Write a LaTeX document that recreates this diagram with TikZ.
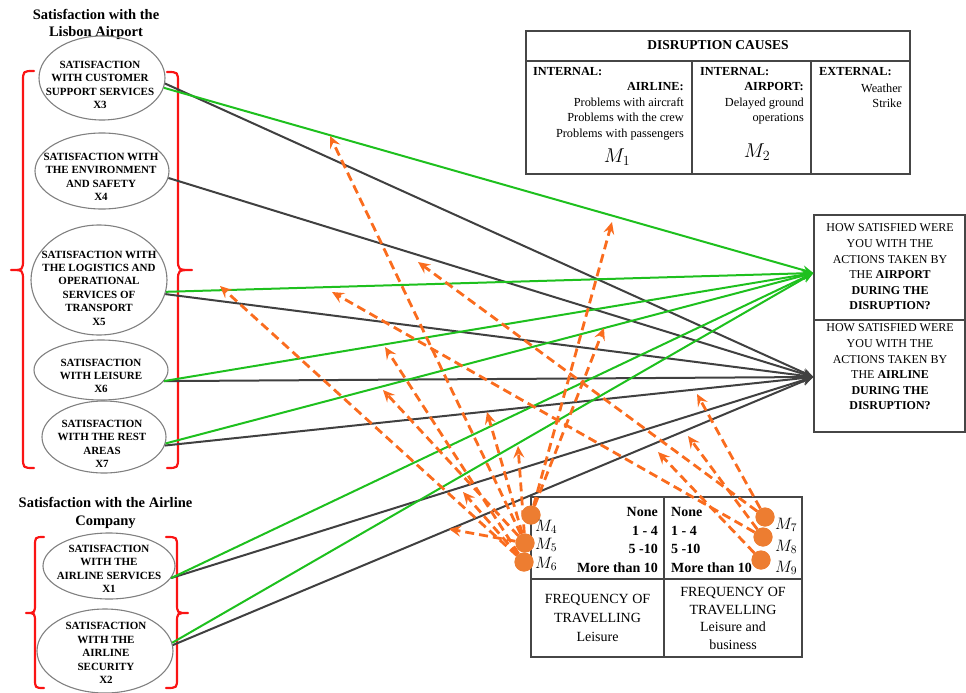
\RequirePackage{fix-cm}
\documentclass[tikz,border=0pt]{standalone}
\usepackage{fontspec}
\setmainfont{Liberation Serif}
\usetikzlibrary{arrows.meta,shapes.geometric,calc}
\definecolor{linkgreen}{RGB}{30,192,30}
\definecolor{linkdark}{RGB}{64,64,64}
\definecolor{medorange}{RGB}{250,108,30}
\definecolor{dotorange}{RGB}{237,125,49}
\definecolor{bracered}{RGB}{250,20,20}
\definecolor{rimgray}{RGB}{128,128,128}
\definecolor{framegray}{RGB}{70,70,70}

\begin{document}
\begin{tikzpicture}[x=1pt,y=-1pt,
  satell/.style={ellipse, draw=rimgray, line width=1.1pt, inner sep=0pt},
  sattext/.style={align=center, inner sep=0pt, font=\fontsize{11}{13.4}\selectfont\bfseries},
  grouptitle/.style={align=center, inner sep=0pt, font=\fontsize{14.5}{17.5}\selectfont\bfseries},
  redbrace/.style={draw=bracered, line width=2.2pt, line cap=round, line join=round},
  greenlink/.style={draw=linkgreen, line width=2pt, -{Stealth[length=11pt,width=9pt]}},
  darklink/.style={draw=linkdark, line width=2pt, -{Stealth[length=11pt,width=9pt]}},
  medarrow/.style={draw=medorange, line width=2.8pt, dash pattern=on 9pt off 5pt, -{Stealth[length=12pt,width=11pt,inset=4.5pt]}},
  mdot/.style={circle, fill=dotorange, inner sep=0pt, minimum size=19pt},
  mlabel/.style={anchor=west, inner sep=0pt, font=\fontsize{16.5}{16.5}\selectfont},
  msym/.style={inner sep=0pt, font=\fontsize{20}{20}\selectfont},
  tableline/.style={draw=framegray, line width=1.1pt},
  celltext/.style={inner sep=0pt, font=\fontsize{12.3}{15.5}\selectfont},
  freqtext/.style={inner sep=0pt, font=\fontsize{14}{18.7}\selectfont},
  qbox/.style={draw=framegray, line width=1.1pt, inner sep=0pt, minimum width=151pt},
  qtext/.style={align=center, inner sep=0pt, font=\fontsize{12}{15.6}\selectfont}
]
\useasboundingbox (0,0) rectangle (966,693);

% ---------- group titles ----------
\node[grouptitle] (lisbontitle) at (96,24.5) {Satisfaction with the\\Lisbon Airport};
\node[grouptitle] (airlinetitle) at (105.5,513) {Satisfaction with the Airline\\Company};

% ---------- satisfaction ellipses ----------
\node[satell, minimum width=126pt, minimum height=84pt] (x3) at (102,78) {};
\node[sattext] (x3t) at (100,85) {SATISFACTION\\WITH CUSTOMER\\SUPPORT SERVICES\\X3};
\node[satell, minimum width=134pt, minimum height=76pt] (x4) at (102,171) {};
\node[sattext] (x4t) at (101,177) {SATISFACTION WITH\\THE ENVIRONMENT\\AND SAFETY\\X4};
\node[satell, minimum width=136pt, minimum height=110pt] (x5) at (99,280) {};
\node[sattext] (x5t) at (99,288) {SATISFACTION WITH\\THE LOGISTICS AND\\OPERATIONAL\\SERVICES OF\\TRANSPORT\\X5};
\node[satell, minimum width=134pt, minimum height=60pt] (x6) at (101,370) {};
\node[sattext] (x6t) at (101,376) {SATISFACTION\\WITH LEISURE\\X6};
\node[satell, minimum width=124pt, minimum height=72pt] (x7) at (104,437) {};
\node[sattext] (x7t) at (102,444) {SATISFACTION\\WITH THE REST\\AREAS\\X7};
\node[satell, minimum width=132pt, minimum height=66pt] (x1) at (109,566) {};
\node[sattext] (x1t) at (109,569) {SATISFACTION\\WITH THE\\AIRLINE SERVICES\\X1};
\node[satell, minimum width=136pt, minimum height=84pt] (x2) at (105,651) {};
\node[sattext] (x2t) at (106,653) {SATISFACTION\\WITH THE\\AIRLINE\\SECURITY\\X2};

% ---------- curly braces around the two groups ----------
\path[redbrace] (34,71) .. controls (23,71) .. (23,82) -- (23,259)
  .. controls (23,270) .. (11,270) .. controls (23,270) .. (23,281) -- (23,457)
  .. controls (23,468) .. (34,468);
\path[redbrace] (167,72) .. controls (178,72) .. (178,83) -- (178,259)
  .. controls (178,270) .. (192,270) .. controls (178,270) .. (178,281) -- (178,457)
  .. controls (178,468) .. (167,468);
\path[redbrace] (44,537) .. controls (35,537) .. (35,547) -- (35,603)
  .. controls (35,613) .. (26,613) .. controls (35,613) .. (35,623) -- (35,678)
  .. controls (35,688) .. (44,688);
\path[redbrace] (166,537) .. controls (177,537) .. (177,547) -- (177,603)
  .. controls (177,613) .. (188,613) .. controls (177,613) .. (177,623) -- (177,678)
  .. controls (177,688) .. (166,688);

% ---------- disruption causes table ----------
\draw[tableline] (526,31) rectangle (910,174);
\draw[tableline] (526,61) -- (910,61);
\draw[tableline] (692,61) -- (692,174);
\draw[tableline] (811,61) -- (811,174);
\node[celltext, font=\fontsize{13.5}{15}\selectfont\bfseries] (dchead) at (718,45) {DISRUPTION CAUSES};
\node[celltext, anchor=west] (int1) at (533,72) {\bfseries INTERNAL:};
\node[celltext, anchor=east, align=right] (airlinecauses) at (684,111.5)
  {\textbf{AIRLINE:}\\Problems with aircraft\\Problems with the crew\\Problems with passengers};
\node[msym] (m1sym) at (617,157) {$M_1$};
\node[celltext, anchor=west] (int2) at (700,72) {\bfseries INTERNAL:};
\node[celltext, anchor=east, align=right] (airportcauses) at (804,103.5)
  {\textbf{AIRPORT:}\\Delayed ground\\operations};
\node[msym] (m2sym) at (757,152) {$M_2$};
\node[celltext, anchor=west] (ext) at (819,72) {\bfseries EXTERNAL:};
\node[celltext, anchor=east, align=right] (extcauses) at (902,96) {Weather\\Strike};

% ---------- outcome boxes ----------
\node[qbox, minimum height=105pt] (airport) at (889.5,267.5) {};
\node[qtext] (airporttxt) at (890,267) {HOW SATISFIED WERE\\YOU WITH THE\\ACTIONS TAKEN BY\\THE \textbf{AIRPORT}\\\textbf{DURING THE}\\\textbf{DISRUPTION?}};
\node[qbox, minimum height=112pt] (airline) at (889.5,376) {};
\node[qtext] (airlinetxt) at (890,367) {HOW SATISFIED WERE\\YOU WITH THE\\ACTIONS TAKEN BY\\THE \textbf{AIRLINE}\\\textbf{DURING THE}\\\textbf{DISRUPTION?}};
\coordinate (airportin) at ($(airport.west)+(0,5.5)$);
\coordinate (airlinein) at ($(airline.west)+(0,1)$);

% ---------- frequency of travelling table ----------
\draw[tableline] (531,497) rectangle (802,657);
\draw[tableline] (664,497) -- (664,657);
\draw[tableline] (531,579) -- (802,579);
\node[freqtext, anchor=east, align=right, font=\fontsize{14}{18.7}\selectfont\bfseries] (lvl1) at (658,540)
  {None\\1 - 4\\5 -10\\More than 10};
\node[freqtext, anchor=west, align=left, font=\fontsize{14}{18.7}\selectfont\bfseries] (lvl2) at (671,540)
  {None\\1 - 4\\5 -10\\More than 10};
\node[freqtext, align=center] (freq1) at (597.5,618) {FREQUENCY OF\\TRAVELLING\\Leisure};
\node[freqtext, align=center, font=\fontsize{14}{17.7}\selectfont] (freq2) at (733,618.5)
  {FREQUENCY OF\\TRAVELLING\\Leisure and\\business};

% ---------- direct effects ----------
\draw[darklink] (x3.-5) -- (airlinein);
\draw[darklink] (x4.-6) -- (airlinein);
\draw[darklink] (x5.-12) -- (airlinein);
\draw[darklink] (x6.-10) -- (airlinein);
\draw[darklink] (x7.-8) -- (airlinein);
\draw[darklink] (x1.-11) -- (airlinein);
\draw[darklink] (x2.5) -- (airlinein);
\draw[greenlink] (x3.-9) -- (airportin);
\draw[greenlink] (x5.-10) -- (airportin);
\draw[greenlink] (x6.-10) -- (airportin);
\draw[greenlink] (x7.-6) -- (airportin);
\draw[greenlink] (x1.-11) -- (airportin);
\draw[greenlink] (x2.7) -- (airportin);

% ---------- moderators ----------
\node[mdot] (m4) at (531,515) {};
\node[mdot] (m5) at (525,543) {};
\node[mdot] (m6) at (524,562) {};
\node[mdot] (m7) at (765,517) {};
\node[mdot] (m8) at (763,537) {};
\node[mdot] (m9) at (761,560) {};

\coordinate (tA) at (330,136);
\coordinate (tB) at (612,222);
\coordinate (tC) at (220,286);
\coordinate (tD) at (332,292);
\coordinate (tE) at (418,262);
\coordinate (tF) at (385,347);
\coordinate (tG) at (383,390);
\coordinate (tH) at (487,412);
\coordinate (tI) at (518,446);
\coordinate (tJ) at (449,529);
\coordinate (tK) at (463,492);
\coordinate (tL) at (697,394);
\coordinate (tM) at (658,452);
\coordinate (tN) at (688,436);
\coordinate (tO) at (604,328);

\draw[medarrow] (m4) -- (tB);
\draw[medarrow] (m4) -- (tO);
\draw[medarrow] (m5) -- (tA);
\draw[medarrow] (m5) -- (tG);
\draw[medarrow] (m5) -- (tH);
\draw[medarrow] (m5) -- (tI);
\draw[medarrow] (m5) -- (tJ);
\draw[medarrow] (m6) -- (tC);
\draw[medarrow] (m6) -- (tF);
\draw[medarrow] (m6) -- (tK);
\draw[medarrow] (m7) -- (tE);
\draw[medarrow] (m7) -- (tL);
\draw[medarrow] (m8) -- (tD);
\draw[medarrow] (m8) -- (tN);
\draw[medarrow] (m9) -- (tM);

% redraw the dots above the dashed lines
\node[mdot] (m4top) at (m4) {};
\node[mdot] (m5top) at (m5) {};
\node[mdot] (m6top) at (m6) {};
\node[mdot] (m7top) at (m7) {};
\node[mdot] (m8top) at (m8) {};
\node[mdot] (m9top) at (m9) {};

\node[mlabel] (m4l) at (535,527) {$M_4$};
\node[mlabel] (m5l) at (535,545) {$M_5$};
\node[mlabel] (m6l) at (535,564) {$M_6$};
\node[mlabel] (m7l) at (775,525) {$M_7$};
\node[mlabel] (m8l) at (775,547) {$M_8$};
\node[mlabel] (m9l) at (775,568) {$M_9$};
\end{tikzpicture}
\end{document}
